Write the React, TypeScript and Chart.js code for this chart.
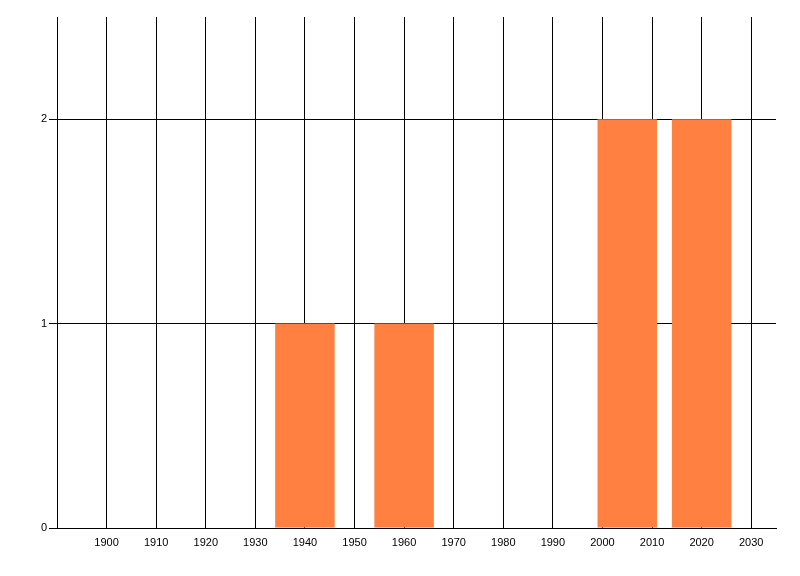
import React, { useEffect, useRef } from 'react';
import { Chart, registerables } from 'chart.js';

Chart.register(...registerables);

// data
const years = [1940, 1960, 2005, 2020];
const counts = [1, 1, 2, 2];
const xTicks = [1900, 1910, 1920, 1930, 1940, 1950, 1960, 1970, 1980, 1990, 2000, 2010, 2020, 2030];
const yTicks = [0, 1, 2];

const font = { family: '"Liberation Sans", Arial, sans-serif', size: 11 };

export default function App() {
  const canvasRef = useRef<HTMLCanvasElement | null>(null);

  useEffect(() => {
    if (!canvasRef.current) return;
    const c = new Chart(canvasRef.current, {
      type: 'bar',
      data: {
        datasets: [{
          data: years.map((x, i) => ({ x, y: counts[i] })),
          backgroundColor: 'rgb(255,128,64)',
          borderWidth: 0,
          // width relative to the 10-year tick spacing (bars span 12 years)
          categoryPercentage: 1,
          barPercentage: 1.2,
        }],
      },
      options: {
        animation: false,
        responsive: false,
        maintainAspectRatio: false,
        layout: { padding: { top: 17, right: 24, left: 0, bottom: 0 } },
        plugins: { legend: { display: false }, tooltip: { enabled: false } },
        scales: {
          x: {
            type: 'linear',
            offset: false,
            min: 1890,
            max: 2035,
            afterBuildTicks: (s: any) => { s.ticks = xTicks.map((v) => ({ value: v })); },
            afterFit: (s: any) => { s.height = 48; },
            grid: { color: '#000', lineWidth: 1, drawTicks: false, offset: false },
            border: { color: '#000', width: 1 },
            ticks: { color: '#000', font, padding: 8, maxRotation: 0, autoSkip: false, callback: (v: any) => String(v) },
          },
          y: {
            min: 0,
            max: 2.5,
            afterBuildTicks: (s: any) => { s.ticks = yTicks.map((v) => ({ value: v })); },
            afterFit: (s: any) => { s.width = 57; },
            grid: { color: '#000', lineWidth: 1, tickLength: 8, tickColor: '#000' },
            border: { color: '#000', width: 1 },
            ticks: { color: '#000', font, padding: 2, callback: (v: any) => String(v) },
          },
        },
      },
    });
    return () => { c.destroy(); };
  }, []);

  return (
    <div style={{ position: 'fixed', left: 0, top: 0, width: 800, height: 576, background: '#fff' }}>
      <canvas ref={canvasRef} width={800} height={576} style={{ width: 800, height: 576 }} />
    </div>
  );
}
